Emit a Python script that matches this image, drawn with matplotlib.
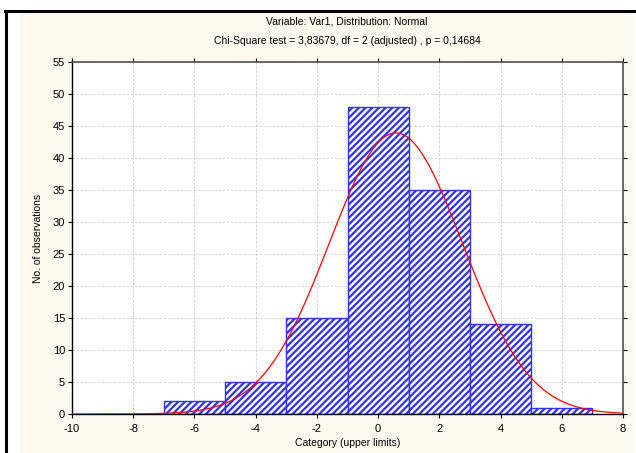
import numpy as np
import matplotlib
matplotlib.use("Agg")
import matplotlib.pyplot as plt
from matplotlib.patches import Rectangle
from matplotlib.lines import Line2D

plt.rcParams['font.family'] = ['Liberation Sans', 'DejaVu Sans']
plt.rcParams['axes.unicode_minus'] = False
plt.rcParams['hatch.linewidth'] = 1.6
plt.rcParams['hatch.color'] = '#0000FF'

# histogram data (upper limits of each class)
bin_edges = [-7, -5, -3, -1, 1, 3, 5, 7]
counts = [2, 5, 15, 48, 35, 14, 1]

# fitted normal
fit_mean = 0.58
fit_sd = 2.18

x_ticks = [-10, -8, -6, -4, -2, 0, 2, 4, 6, 8]
y_ticks = [0, 5, 10, 15, 20, 25, 30, 35, 40, 45, 50, 55]

title1 = "Variable: Var1, Distribution: Normal"
title2 = "Chi-Square test = 3,83679, df = 2 (adjusted) , p = 0,14684"

fig = plt.figure(figsize=(6.36, 4.53), dpi=100)
fig.patch.set_facecolor('white')

# cream panel and black frame lines like the screenshot
fig.patches.append(Rectangle((20 / 636, 0), 614 / 636, 440 / 453, transform=fig.transFigure,
                             facecolor='#FEF9EE', edgecolor='none', zorder=-10))
fig.lines.append(Line2D([5 / 636, 1], [1 - 10.5 / 453, 1 - 10.5 / 453], transform=fig.transFigure,
                        color='black', lw=2.2, zorder=-5))
fig.lines.append(Line2D([6 / 636, 6 / 636], [0, 1 - 10.5 / 453], transform=fig.transFigure,
                        color='black', lw=2.2, zorder=-5))

ax = fig.add_axes([72 / 636, 39 / 453, 551 / 636, 352 / 453])
ax.set_facecolor('white')

lefts = bin_edges[:-1]
widths = np.diff(bin_edges)
ax.bar(lefts, counts, width=widths, align='edge', facecolor='white',
       edgecolor='#3030FF', hatch='/////', linewidth=1.0, zorder=2)

n_total = sum(counts)
xs = np.linspace(-10, 8, 400)
ys = n_total * widths[0] * np.exp(-0.5 * ((xs - fit_mean) / fit_sd) ** 2) / (fit_sd * np.sqrt(2 * np.pi))
ax.plot(xs, ys, color='red', lw=0.9, zorder=3)

ax.set_xlim(-10, 8)
ax.set_ylim(0, 55)
ax.set_xticks(x_ticks)
ax.set_yticks(y_ticks)
ax.grid(True, linestyle=(0, (3, 2)), color='#CCCCCC', linewidth=0.6, zorder=0)
ax.set_axisbelow(True)

ax.tick_params(labelsize=8, length=3, width=0.8, top=True, right=True)
ax.tick_params(axis='x', pad=4)
ax.tick_params(axis='y', pad=2)
for side in ['left', 'bottom']:
    ax.spines[side].set_color('black')
    ax.spines[side].set_linewidth(1.0)
for side in ['top', 'right']:
    ax.spines[side].set_color('#505050')
    ax.spines[side].set_linewidth(1.2)

ax.set_xlabel("Category (upper limits)", fontsize=7.5, labelpad=3)
ax.set_ylabel("No. of observations", fontsize=7.5, labelpad=7)

fig.text(347 / 636, 1 - 22 / 453, title1, ha='center', va='center', fontsize=7.5)
fig.text(347 / 636, 1 - 41 / 453, title2, ha='center', va='center', fontsize=7.5)

fig.savefig("out.png", dpi=100)
